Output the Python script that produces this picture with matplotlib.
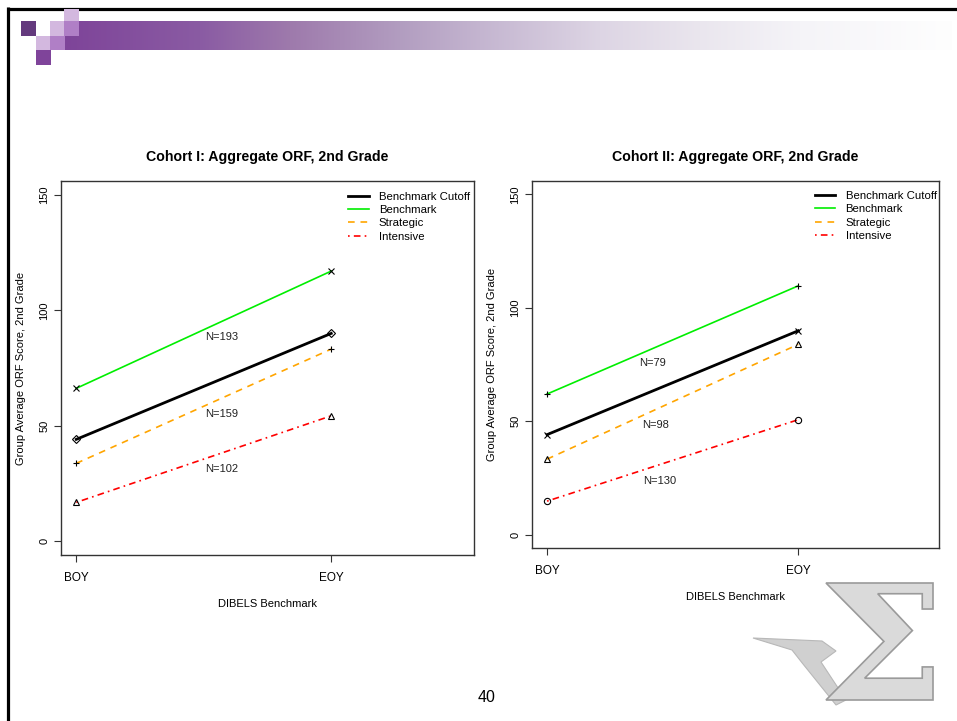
import numpy as np
import matplotlib
matplotlib.use('Agg')
import matplotlib.pyplot as plt
from matplotlib.colors import to_rgb
from matplotlib.textpath import TextPath
from matplotlib.font_manager import FontProperties
from matplotlib.patches import PathPatch
from matplotlib.transforms import Affine2D

plt.rcParams['font.family'] = ['Liberation Sans', 'DejaVu Sans']

# ---- data ----
periods = ['BOY', 'EOY']
series_names = ['Benchmark Cutoff', 'Benchmark', 'Strategic', 'Intensive']

# Cohort I
c1_cutoff = [44.1, 90.0]
c1_benchmark = [66.2, 117.0]
c1_strategic = [33.7, 83.2]
c1_intensive = [16.8, 54.3]
c1_n_labels = ['N=193', 'N=159', 'N=102']
c1_n_pos = [(1.57, 88.6), (1.57, 55.0), (1.57, 31.2)]

# Cohort II
c2_cutoff = [44.1, 89.9]
c2_benchmark = [62.0, 109.7]
c2_strategic = [33.3, 83.9]
c2_intensive = [14.8, 50.7]
c2_n_labels = ['N=79', 'N=98', 'N=130']
c2_n_pos = [(1.42, 75.6), (1.43, 48.2), (1.45, 23.6)]

W, H = 957, 721
fig = plt.figure(figsize=(W / 100, H / 100), dpi=100)

# ---- slide decoration (pixel coordinates) ----
deco = fig.add_axes([0, 0, 1, 1])
deco.axis('off')

# frame
deco.plot([7, W], [8.5, 8.5], color='black', lw=2.3, solid_capstyle='butt')
deco.plot([8, 8], [7, H], color='black', lw=2.3, solid_capstyle='butt')

# purple gradient band
stops_x = [65, 200, 290, 400, 480, 600, 700, 800, 952]
stops_c = ['#7e4499', '#8a5ba3', '#9e7aac', '#b29dc0', '#c4b5d0',
           '#ddd5e4', '#eae6ee', '#f5f4f8', '#fefefe']
xs = np.linspace(65, 952, 900)
rgb = np.array([to_rgb(c) for c in stops_c])
grad = np.stack([np.interp(xs, stops_x, rgb[:, k]) for k in range(3)], axis=-1)
deco.imshow(grad[np.newaxis, :, :], extent=(65, 952, 50, 21), aspect='auto',
            interpolation='bilinear', zorder=1)
deco.set_xlim(0, W)
deco.set_ylim(H, 0)

squares = [
    (64, 9, 15, 12, '#d3b8df'),
    (21, 21, 15, 15, '#643a7e'),
    (50, 21, 14, 15, '#d3b8df'),
    (64, 21, 15, 15, '#b07fc6'),
    (36, 36, 14, 14, '#d3b8df'),
    (50, 36, 15, 14, '#b07fc6'),
    (36, 50, 15, 15, '#7f449a'),
]
for x0, y0, w, h, c in squares:
    deco.add_patch(plt.Rectangle((x0, y0), w, h, color=c, lw=0, zorder=2))

# sigma logo (rough graphic)
wing = [(753, 638), (822, 641), (836, 651), (821, 662), (846, 700),
        (836, 705), (803, 664), (792, 650)]
deco.add_patch(plt.Polygon(wing, closed=True, facecolor='#d0d0d0',
                           edgecolor='#b8b8b8', lw=0.8, zorder=2))
sig = TextPath((0, 0), '\u03a3', size=100,
               prop=FontProperties(family='DejaVu Serif', weight='bold'))
ext = sig.get_extents()
sx = 107 / ext.width
sy = 117 / ext.height
tr = Affine2D().translate(-ext.x0, -ext.y0).scale(sx, -sy).translate(826, 700)
deco.add_patch(PathPatch(tr.transform_path(sig), facecolor='#dadada',
                         edgecolor='#9a9a9a', lw=1.2, zorder=3))

# page number
deco.text(487, 697, '40', fontsize=11.5, ha='center', va='center')


def draw_panel(rect, title, cutoff, bench, strat, inten, markers,
               n_labels, n_pos):
    ax = fig.add_axes(rect)
    x = [1, 2]
    ax.plot(x, cutoff, color='black', lw=2.0, label=series_names[0])
    ax.plot(x, bench, color='#00ee00', lw=1.2, label=series_names[1])
    ax.plot(x, strat, color='#ffa500', lw=1.2, ls=(0, (4, 3.5)),
            label=series_names[2])
    ax.plot(x, inten, color='#ff0000', lw=1.2, ls=(0, (1, 2.5, 4, 2.5)),
            label=series_names[3])
    for vals, m in zip([cutoff, bench, strat, inten], markers):
        ax.plot(x, vals, ls='none', marker=m, ms=4.5, mew=0.8,
                mec='black', mfc='none')

    for lab, (px, py) in zip(n_labels, n_pos):
        ax.text(px, py, lab, fontsize=8, ha='center', va='center',
                color='#222222')

    ax.set_xlim(0.94, 2.56)
    ax.set_ylim(-6, 156)
    ax.set_xticks(x)
    ax.set_xticklabels(periods, fontsize=8.5)
    ax.set_yticks([0, 50, 100, 150])
    ax.set_yticklabels(['0', '50', '100', '150'], fontsize=8,
                       rotation=90, va='center')
    ax.tick_params(axis='both', length=5, width=0.8, color='#333333',
                   direction='out')
    ax.tick_params(axis='x', pad=7)
    ax.tick_params(axis='y', pad=3.3)
    for s in ax.spines.values():
        s.set_color('#333333')
        s.set_linewidth(1.0)

    ax.set_xlabel('DIBELS Benchmark', fontsize=8, labelpad=11)
    ax.set_ylabel('Group Average ORF Score, 2nd Grade', fontsize=8,
                  labelpad=10)
    ax.set_title(title, fontsize=10.2, fontweight='bold', pad=14.5)

    ax.legend(loc='upper left', bbox_to_anchor=(0.695, 0.972),
              frameon=False, fontsize=8.2, borderpad=0, borderaxespad=0,
              handlelength=1.8, handletextpad=0.9, labelspacing=0.3)
    return ax


draw_panel([0.0637, 0.2302, 0.4316, 0.5187],
           'Cohort I: Aggregate ORF, 2nd Grade',
           c1_cutoff, c1_benchmark, c1_strategic, c1_intensive,
           ['D', 'x', '+', '^'], c1_n_labels, c1_n_pos)

draw_panel([0.5559, 0.2395, 0.4253, 0.5098],
           'Cohort II: Aggregate ORF, 2nd Grade',
           c2_cutoff, c2_benchmark, c2_strategic, c2_intensive,
           ['x', '+', '^', 'o'], c2_n_labels, c2_n_pos)

fig.savefig('out.png', dpi=100)
